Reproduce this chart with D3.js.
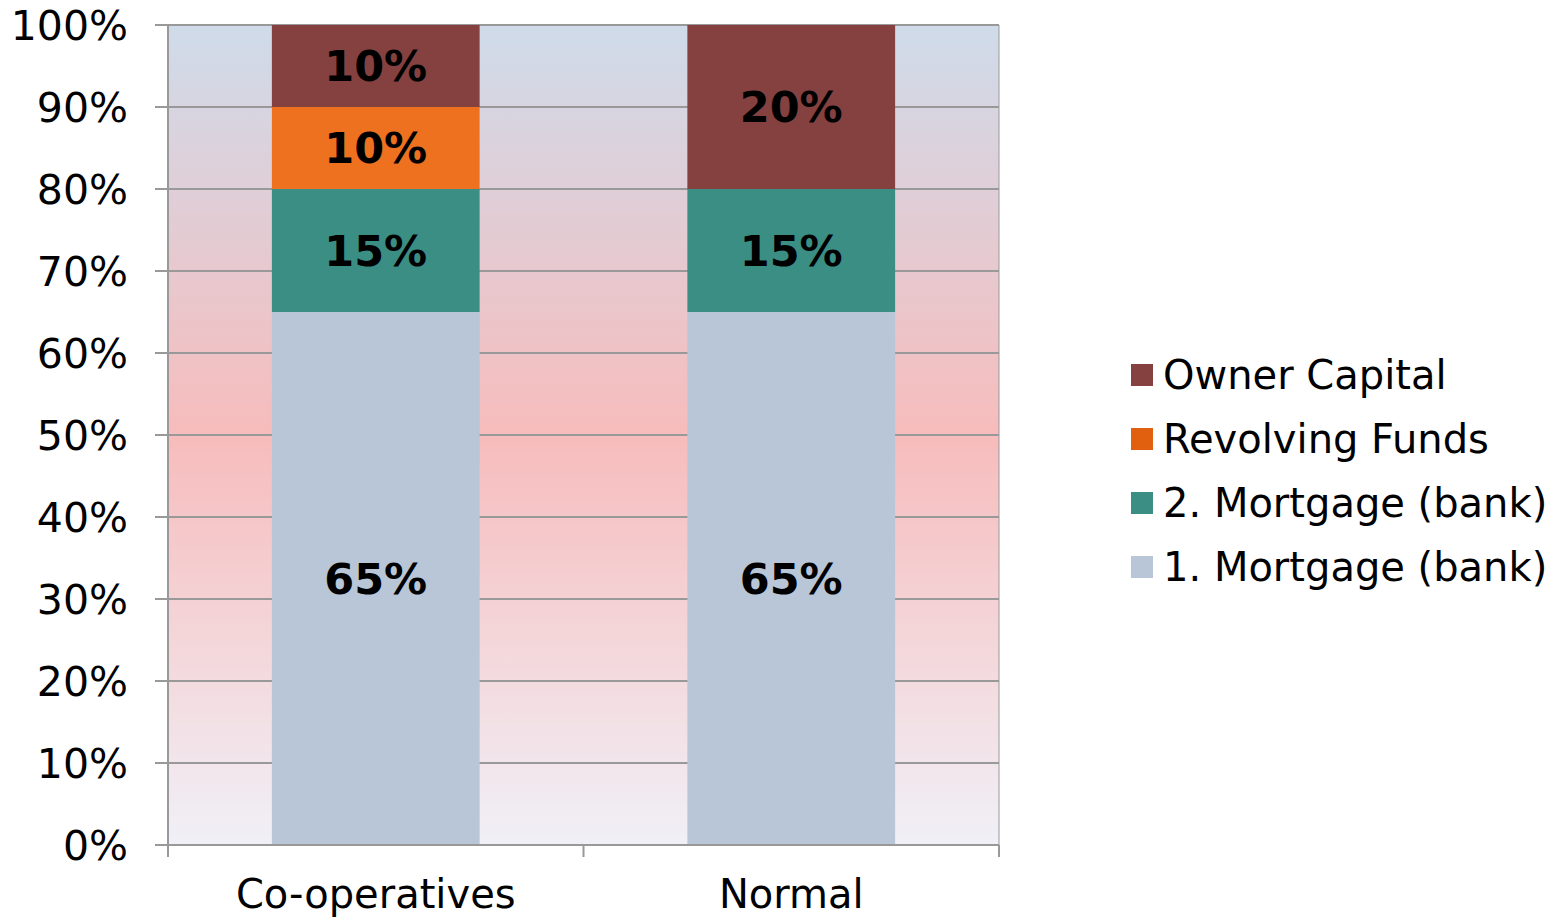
<!DOCTYPE html>
<html>
<head>
<meta charset="utf-8">
<script src="https://cdn.jsdelivr.net/npm/d3@7"></script>
<style>
  body { margin: 0; background: #fff; }
  text { font-family: "DejaVu Sans", Verdana, sans-serif; }
</style>
</head>
<body>
<div id="chart"></div>
<script>
// data
var categories = ["Co-operatives", "Normal"];
var seriesNames = ["1. Mortgage (bank)", "2. Mortgage (bank)", "Revolving Funds", "Owner Capital"];
var mortgage1 = [0.65, 0.65];
var mortgage2 = [0.15, 0.15];
var revolving = [0.10, 0];
var owner = [0.10, 0.20];
var yTicks = [0, 0.1, 0.2, 0.3, 0.4, 0.5, 0.6, 0.7, 0.8, 0.9, 1.0];
var colors = ["#b8c6d8", "#3a8e84", "#ee7120", "#84413f"];
var legendColors = ["#b8c6d8", "#3a8e84", "#e0600f", "#84413f"];

var width = 1558, height = 919;
var margin = {top: 25, left: 168},
    plotW = 999 - 168,
    plotH = 845 - 25;

var svg = d3.select("#chart").append("svg")
    .attr("width", width)
    .attr("height", height);

var defs = svg.append("defs");
var grad = defs.append("linearGradient")
    .attr("id", "bg").attr("x1", 0).attr("y1", 0).attr("x2", 0).attr("y2", 1);
grad.append("stop").attr("offset", "0%").attr("stop-color", "#cfdbea");
grad.append("stop").attr("offset", "50%").attr("stop-color", "#f7bcbc");
grad.append("stop").attr("offset", "100%").attr("stop-color", "#f0f0f7");

var g = svg.append("g")
    .attr("transform", "translate(" + margin.left + "," + margin.top + ")");

var x = d3.scaleBand()
    .domain(categories)
    .range([0, plotW])
    .paddingInner(0.5)
    .paddingOuter(0.25);
var y = d3.scaleLinear().domain([0, 1]).range([plotH, 0]);

// background
g.append("rect")
    .attr("width", plotW).attr("height", plotH)
    .attr("fill", "url(#bg)");

// gridlines
g.selectAll(".grid").data(yTicks.slice(1)).enter().append("line")
    .attr("x1", 0).attr("x2", plotW)
    .attr("y1", function(d) { return y(d); })
    .attr("y2", function(d) { return y(d); })
    .attr("stroke", "#999").attr("stroke-width", 2);

// stacked bars
var table = categories.map(function(c, i) {
  return {cat: c, m1: mortgage1[i], m2: mortgage2[i], rev: revolving[i], own: owner[i]};
});
var keys = ["m1", "m2", "rev", "own"];
var stack = d3.stack().keys(keys)(table);

var layers = g.selectAll(".layer").data(stack).enter().append("g")
    .attr("fill", function(d, i) { return colors[i]; });
layers.selectAll("rect").data(function(d) { return d; }).enter().append("rect")
    .attr("x", function(d) { return x(d.data.cat); })
    .attr("width", x.bandwidth())
    .attr("y", function(d) { return y(d[1]); })
    .attr("height", function(d) { return y(d[0]) - y(d[1]); });

// value labels
layers.selectAll("text").data(function(d) { return d.filter(function(s) { return s[1] - s[0] > 0; }); })
  .enter().append("text")
    .attr("x", function(d) { return x(d.data.cat) + x.bandwidth() / 2; })
    .attr("y", function(d) { return y((d[0] + d[1]) / 2); })
    .attr("dy", "0.36em")
    .attr("text-anchor", "middle")
    .attr("fill", "#000")
    .style("font-size", "43px")
    .style("font-weight", "bold")
    .text(function(d) { return Math.round((d[1] - d[0]) * 100) + "%"; });

// y axis
g.append("line")
    .attr("x1", 0).attr("x2", 0).attr("y1", 0).attr("y2", plotH)
    .attr("stroke", "#999").attr("stroke-width", 2);
g.append("line")
    .attr("x1", plotW).attr("x2", plotW).attr("y1", 0).attr("y2", plotH)
    .attr("stroke", "#999").attr("stroke-width", 1);
g.selectAll(".ytick").data(yTicks).enter().append("line")
    .attr("x1", -13).attr("x2", 0)
    .attr("y1", function(d) { return y(d); })
    .attr("y2", function(d) { return y(d); })
    .attr("stroke", "#999").attr("stroke-width", 2);
g.selectAll(".ylab").data(yTicks).enter().append("text")
    .attr("x", -40)
    .attr("y", function(d) { return y(d); })
    .attr("dy", "0.36em")
    .attr("text-anchor", "end")
    .style("font-size", "41px")
    .text(function(d) { return Math.round(d * 100) + "%"; });

// x axis
g.append("line")
    .attr("x1", 0).attr("x2", plotW).attr("y1", plotH).attr("y2", plotH)
    .attr("stroke", "#999").attr("stroke-width", 2);
g.selectAll(".xtick").data([0, plotW / 2, plotW]).enter().append("line")
    .attr("x1", function(d) { return d; }).attr("x2", function(d) { return d; })
    .attr("y1", plotH).attr("y2", plotH + 12)
    .attr("stroke", "#999").attr("stroke-width", 2);
g.selectAll(".xlab").data(categories).enter().append("text")
    .attr("x", function(d) { return x(d) + x.bandwidth() / 2; })
    .attr("y", plotH + 63)
    .attr("text-anchor", "middle")
    .style("font-size", "40px")
    .text(function(d) { return d; });

// legend
var legend = svg.append("g").attr("transform", "translate(1131,375)");
var legendItems = seriesNames.map(function(n, i) { return {name: n, color: legendColors[i]}; }).reverse();
var li = legend.selectAll("g").data(legendItems).enter().append("g")
    .attr("transform", function(d, i) { return "translate(0," + (i * 64) + ")"; });
li.append("rect")
    .attr("x", 0).attr("y", -11).attr("width", 22).attr("height", 22)
    .attr("fill", function(d) { return d.color; });
li.append("text")
    .attr("x", 32).attr("y", 0).attr("dy", "0.36em")
    .style("font-size", "40px")
    .text(function(d) { return d.name; });
</script>
</body>
</html>
